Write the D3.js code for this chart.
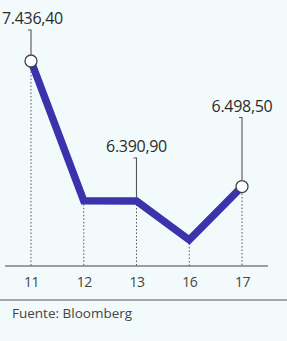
<!DOCTYPE html>
<html>
<head>
<meta charset="utf-8">
<script src="https://cdn.jsdelivr.net/npm/d3@7"></script>
<style>
  html, body { margin: 0; padding: 0; background: #f3fafc; }
  svg { display: block; font-family: "Open Sans", "Noto Sans", sans-serif; }
</style>
</head>
<body>
<div id="chart"></div>
<script>
// Index closing values by day
const days = ["11", "12", "13", "16", "17"];
const values = [7436.40, 6392.00, 6390.90, 6100.00, 6498.50];
const labelled = ["11", "13", "17"];
const valueLabels = ["7.436,40", "6.390,90", "6.498,50"];
const source = "Fuente: Bloomberg";

const W = 287, H = 341;
const axisY = 266;
// how far above each point its label baseline sits
const labelLift = { "11": 37, "13": 49, "17": 75 };

const svg = d3.select("#chart").append("svg")
    .attr("width", W)
    .attr("height", H);

const x = d3.scalePoint().domain(days).range([31, 242]);
const y = d3.scaleLinear().domain([6000, 7500]).range([253.3, 52.5]);

const pts = days.map((d, i) => ({ day: d, value: values[i] }));

// dotted drop lines
svg.append("g").selectAll("line")
    .data(pts)
    .enter()
    .append("line")
    .attr("x1", d => x(d.day))
    .attr("x2", d => x(d.day))
    .attr("y1", d => y(d.value))
    .attr("y2", axisY)
    .attr("stroke", "#555")
    .attr("stroke-width", 1)
    .attr("stroke-dasharray", "1.5,2");

// axis
svg.append("line")
    .attr("x1", 5).attr("x2", 268)
    .attr("y1", axisY).attr("y2", axisY)
    .attr("stroke", "#444")
    .attr("stroke-width", 1);

svg.append("g")
    .attr("transform", `translate(0,${axisY})`)
    .call(d3.axisBottom(x).tickSize(0).tickPadding(0))
    .call(g => g.select(".domain").remove())
    .selectAll("text")
    .attr("y", 21)
    .attr("dy", 0)
    .attr("fill", "#444")
    .style("font-size", "14px")
    .style("letter-spacing", "-0.5px")
    .style("font-family", "'Open Sans', sans-serif");

// the line
svg.append("path")
    .datum(pts)
    .attr("d", d3.line().x(d => x(d.day)).y(d => y(d.value)))
    .attr("fill", "none")
    .attr("stroke", "#3b32ac")
    .attr("stroke-width", 7.5)
    .attr("stroke-linejoin", "miter");

// value labels with leader lines
labelled.forEach((day, i) => {
    const v = values[days.indexOf(day)];
    const px = x(day), py = y(v);
    const base = py - labelLift[day];
    const hasDot = (day === "11" || day === "17");
    const bottom = hasDot ? py - 6.5 : py - 3.5;

    svg.append("path")
        .attr("d", `M${px - 3},${base + 6}L${px},${base + 6}L${px},${bottom}`)
        .attr("fill", "none")
        .attr("stroke", "#555")
        .attr("stroke-width", 1.1);

    const t = svg.append("text")
        .attr("x", px)
        .attr("y", base)
        .attr("text-anchor", "middle")
        .attr("fill", "#2b2b2b")
        .style("font-size", "16px")
        .style("letter-spacing", "-0.3px")
        .text(valueLabels[i]);

    // keep label inside the frame
    const bb = t.node().getBBox();
    if (bb.x < 2) t.attr("x", px + (2 - bb.x));
    if (bb.x + bb.width > W - 4) t.attr("x", px - (bb.x + bb.width - (W - 4)));

    if (hasDot) {
        svg.append("circle")
            .attr("cx", px)
            .attr("cy", py)
            .attr("r", 6)
            .attr("fill", "#fff")
            .attr("stroke", "#444")
            .attr("stroke-width", 1.3);
    }
});

// footer
svg.append("line")
    .attr("x1", 0).attr("x2", W)
    .attr("y1", 300).attr("y2", 300)
    .attr("stroke", "#555")
    .attr("stroke-width", 1);

svg.append("text")
    .attr("x", 12)
    .attr("y", 318)
    .attr("fill", "#444")
    .style("font-size", "13.5px")
    .text(source);
</script>
</body>
</html>
